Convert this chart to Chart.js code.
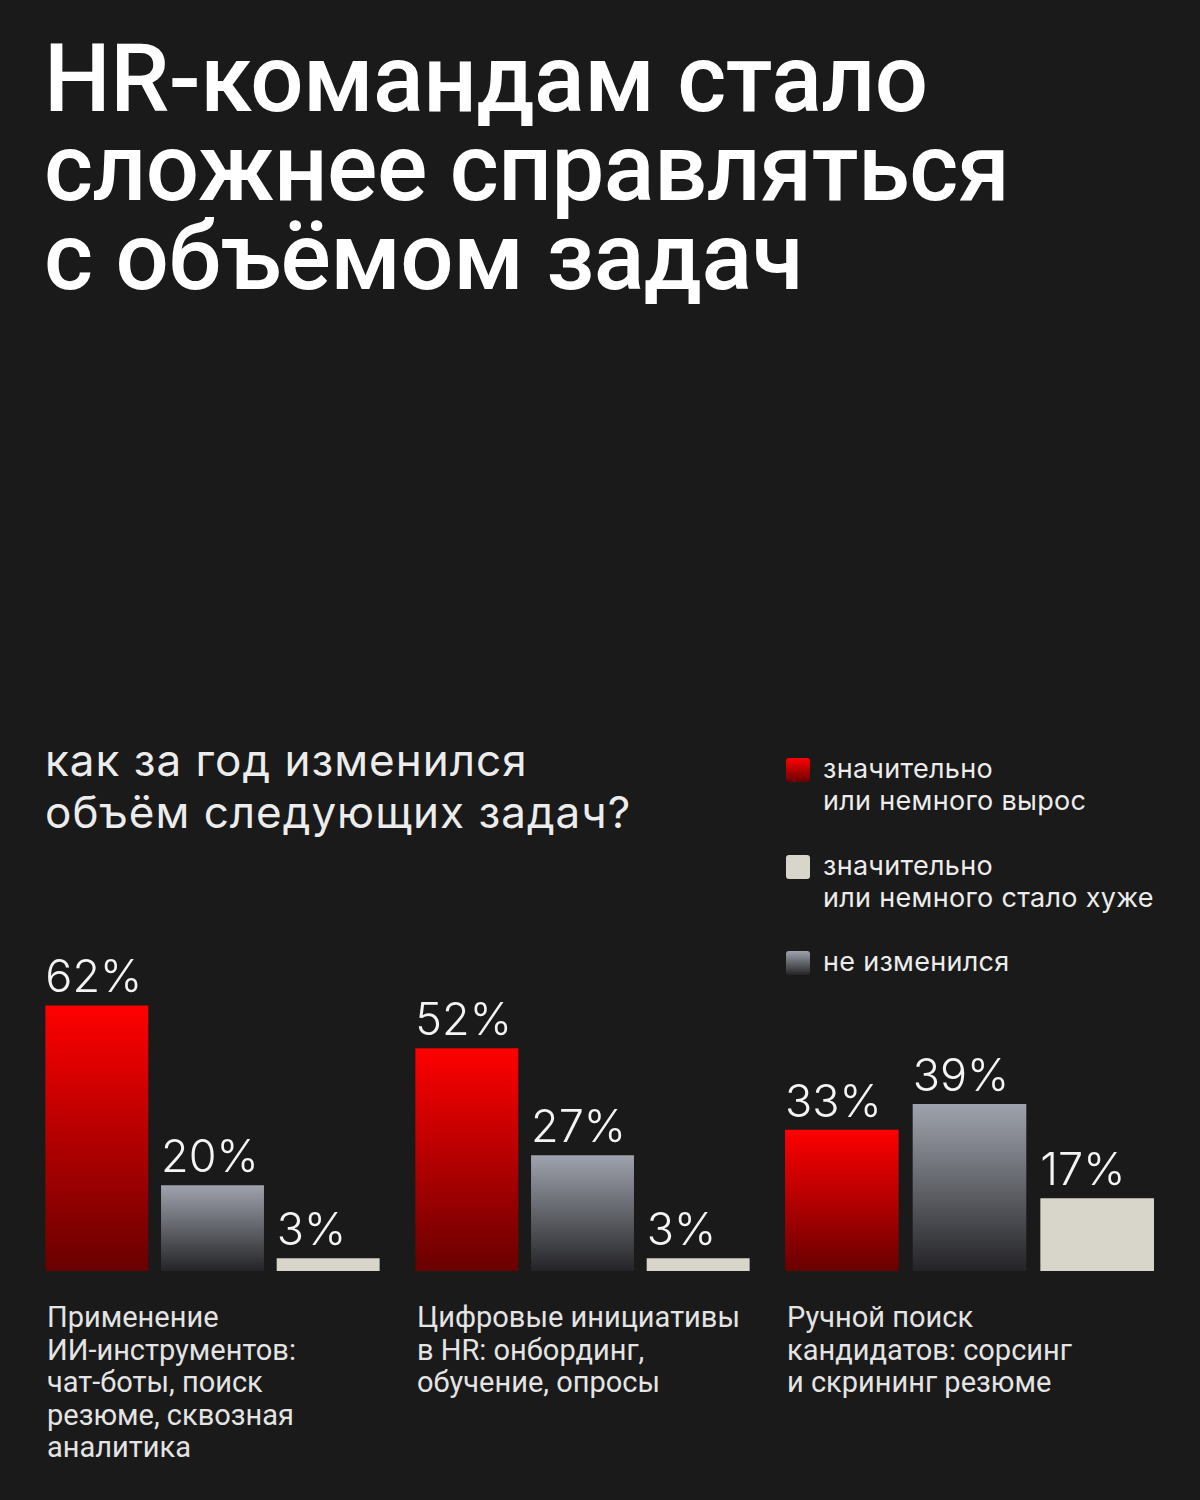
<!DOCTYPE html>
<html><head><meta charset="utf-8">
<script src="https://cdn.jsdelivr.net/npm/chart.js@4.4.1/dist/chart.umd.min.js"></script>
<style>
html,body{margin:0;padding:0;background:#1a1a1a;}
body{width:1200px;height:1500px;position:relative;overflow:hidden;font-family:Roboto,'Noto Sans',sans-serif;color:#fff;}
#title{position:absolute;left:44px;top:35px;margin:0;font-size:94px;font-weight:500;letter-spacing:-0.5px;color:#fff;}
#title div{height:89px;line-height:89px;white-space:nowrap;}
#subtitle{position:absolute;left:45px;top:734px;font-family:Inter,Roboto,sans-serif;font-size:44px;line-height:52px;letter-spacing:1px;color:#ececec;font-weight:400;}
.leg{position:absolute;left:786px;font-family:Inter,Roboto,sans-serif;font-size:27px;line-height:32px;letter-spacing:0.3px;color:#ececec;}
.leg .sw{position:absolute;left:0;top:5px;width:24px;height:24px;border-radius:3px;}
.leg .tx{position:absolute;left:37px;top:0;white-space:nowrap;}
.cap{position:absolute;top:1301px;font-size:29px;line-height:32.5px;color:#e4e4e4;white-space:nowrap;}
.cw{position:absolute;top:939px;height:332px;}
</style>
</head><body>
<h1 id="title"></h1>
<div id="subtitle"></div>
<div id="legend"></div>
<div id="charts"></div>
<script>
// ---- data ----
const titleLines = ['HR-командам стало','сложнее справляться','с объёмом задач'];
const subtitleLines = ['как за год изменился','объём следующих задач?'];
const categories = [
  ['Применение','ИИ-инструментов:','чат-боты, поиск','резюме, сквозная','аналитика'],
  ['Цифровые инициативы','в HR: онбординг,','обучение, опросы'],
  ['Ручной поиск','кандидатов: сорсинг','и скрининг резюме']
];
const seriesKeys = ['вырос','не изменился','стало хуже'];
const grew      = [62, 52, 33];
const unchanged = [20, 27, 39];
const worse     = [3, 3, 17];
const legendItems = [
  {key:'вырос', lines:['значительно','или немного вырос']},
  {key:'стало хуже', lines:['значительно','или немного стало хуже']},
  {key:'не изменился', lines:['не изменился']}
];
const yMax = 77.5;

// ---- styles ----
const palette = {
  'вырос': {top:'#ff0000', bottom:'#690000'},
  'не изменился': {top:'#9fa3ad', bottom:'#242427'},
  'стало хуже': {top:'#d8d6ca', bottom:'#d8d6ca'}
};
const chartBoxes = [
  {left:39, width:347},
  {left:409, width:347},
  {left:778, width:383}
];
const captionLeft = [47, 417, 787];
const legendTops = [753, 850, 946];

const titleEl = document.getElementById('title');
titleLines.forEach(t => { const d = document.createElement('div'); d.textContent = t; titleEl.appendChild(d); });
document.getElementById('subtitle').innerHTML = subtitleLines.join('<br>');

const legEl = document.getElementById('legend');
legendItems.forEach((it, i) => {
  const d = document.createElement('div');
  d.className = 'leg';
  d.style.top = legendTops[i] + 'px';
  const p = palette[it.key];
  d.innerHTML = '<div class="sw" style="background:linear-gradient(' + p.top + ',' + p.bottom + ')"></div><div class="tx">' + it.lines.join('<br>') + '</div>';
  legEl.appendChild(d);
});

function barFill(ctx) {
  const key = seriesKeys[ctx.dataIndex] || seriesKeys[0];
  const p = palette[key];
  const chart = ctx.chart;
  if (!chart.chartArea || ctx.raw === undefined) return p.top;
  const y = chart.scales.y;
  const t = y.getPixelForValue(ctx.raw), b = y.getPixelForValue(0);
  const g = chart.ctx.createLinearGradient(0, t, 0, b);
  g.addColorStop(0, p.top);
  g.addColorStop(1, p.bottom);
  return g;
}

const pctLabels = {
  id: 'pctLabels',
  afterDatasetsDraw(chart) {
    const c = chart.ctx;
    const meta = chart.getDatasetMeta(0);
    c.save();
    c.font = '300 45px Inter, Roboto, sans-serif';
    c.fillStyle = '#f4f4f4';
    c.textAlign = 'left';
    c.textBaseline = 'alphabetic';
    meta.data.forEach((bar, i) => {
      const v = chart.data.datasets[0].data[i];
      c.fillText(v + '%', bar.x - bar.width / 2, bar.y - 13);
    });
    c.restore();
  }
};

const chartsEl = document.getElementById('charts');
categories.forEach((cat, gi) => {
  const box = chartBoxes[gi];
  const wrap = document.createElement('div');
  wrap.className = 'cw';
  wrap.style.left = box.left + 'px';
  wrap.style.width = box.width + 'px';
  const cv = document.createElement('canvas');
  cv.width = box.width; cv.height = 332;
  wrap.appendChild(cv);
  chartsEl.appendChild(wrap);

  const cap = document.createElement('div');
  cap.className = 'cap';
  cap.style.left = captionLeft[gi] + 'px';
  cap.innerHTML = cat.join('<br>');
  chartsEl.appendChild(cap);

  new Chart(cv, {
    type: 'bar',
    data: {
      labels: seriesKeys,
      datasets: [{
        label: cat.join(' '),
        data: [grew[gi], unchanged[gi], worse[gi]],
        backgroundColor: barFill,
        borderWidth: 0,
        categoryPercentage: 1,
        barPercentage: 0.89
      }]
    },
    options: {
      responsive: false,
      animation: false,
      layout: {padding: 0},
      plugins: {legend: {display: false}, tooltip: {enabled: false}},
      scales: {
        x: {display: false},
        y: {display: false, min: 0, max: yMax}
      }
    },
    plugins: [pctLabels]
  });
});
</script>
</body></html>
